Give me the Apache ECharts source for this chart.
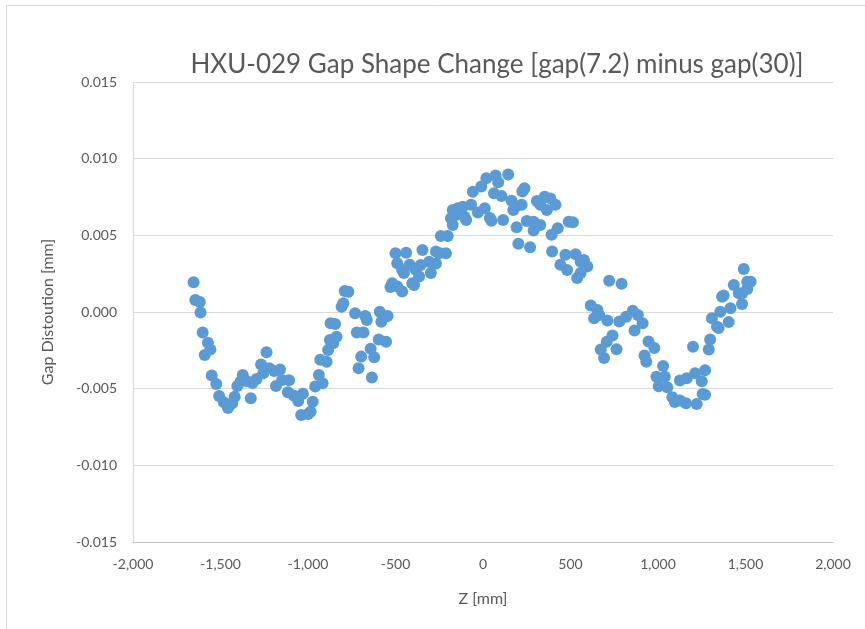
<!DOCTYPE html>
<html>
<head>
<meta charset="utf-8">
<script src="https://cdn.jsdelivr.net/npm/echarts@6/dist/echarts.min.js"></script>
<style>html,body{margin:0;padding:0;background:#fff;}#c{width:865px;height:629px;}</style>
</head>
<body>
<div id="c"></div>
<script>
// Z positions [mm]
const zValues = [
 -1654,-1644,-1618,-1614,-1602,-1572,-1558,-1590,-1550,-1524,-1508,-1481,-1457,-1433,-1419,-1404,-1373,-1385,-1351,-1327,
 -1317,-1294,-1268,-1237,-1256,-1221,-1193,-1160,-1183,-1148,-1108,-1115,-1082,-1056,-1029,-1039,-1000,-985,-973,-959,
 -938,-917,-930,-894,-885,-875,-871,-845,-837,-856,-808,-798,-769,-790,-731,-673,-664,-590,-545,-581,
 -721,-683,-596,-554,-642,-696,-622,-711,-635,
 -519,-529,-462,-490,-500,-439,-346,-490,-419,-452,-385,-356,-308,-269,-250,-212,-298,-394,-365,-404,
 -462,-269,-241,-202,
 -183,-173,-144,-115,-154,-96,-173,-68,-106,-29,10,39,48,115,-58,-10,19,72,144,87,
 63,106,237,225,163,183,221,173,308,352,385,414,365,327,250,289,327,289,192,392,
 427,490,514,202,269,395,471,442,
 529,577,596,481,558,538,558,721,792,616,654,635,664,711,779,818,856,885,912,866,
 740,707,673,692,763,946,979,923,933,1029,991,1039,1004,1053,1082,1125,1160,1221,1096,1125,
 1164,1212,1269,1250,1255,1200,1298,1290,1308,1356,1337,1366,1404,1414,1375,1433,1481,1480,1490,1510,
 1529,1462,1510,1346,1269
];
// Gap distortion [mm]
const gapValues = [
 0.00194,0.00078,0.00065,-0.00003,-0.00134,-0.00201,-0.00245,-0.0028,-0.00414,-0.00469,-0.00548,-0.00589,-0.00626,-0.00595,-0.00552,-0.00482,-0.00411,-0.00454,-0.0045,-0.00563,
 -0.00463,-0.00437,-0.00342,-0.00262,-0.004,-0.00367,-0.00385,-0.00375,-0.00482,-0.00443,-0.00445,-0.00523,-0.00544,-0.0058,-0.00533,-0.00672,-0.00665,-0.0065,-0.00585,-0.00486,
 -0.00411,-0.00465,-0.00311,-0.00324,-0.00248,-0.00183,-0.00074,-0.00078,-0.00161,-0.00204,0.00035,0.00057,0.00132,0.00137,-0.00008,-0.00026,-0.00052,0.00002,-0.00026,-0.00063,
 -0.00134,-0.00134,-0.00179,-0.00194,-0.0024,-0.00291,-0.00295,-0.00367,-0.00427,
 0.00187,0.00163,0.00134,0.00167,0.00383,0.00387,0.00404,0.00318,0.00308,0.00254,0.00276,0.00306,0.00328,0.00317,0.00383,0.00383,0.00254,0.00176,0.00231,0.00187,
 0.00274,0.00395,0.00496,0.00496,
 0.00611,0.00665,0.00676,0.00687,0.00633,0.006,0.00567,0.007,0.00621,0.00649,0.00676,0.00613,0.00595,0.006,0.00784,0.00818,0.00872,0.0089,0.00897,0.00846,
 0.00774,0.00756,0.00807,0.00786,0.00726,0.00683,0.007,0.00665,0.00724,0.00752,0.00741,0.007,0.00665,0.007,0.00593,0.00589,0.00567,0.00531,0.00553,0.00504,
 0.00546,0.00589,0.00585,0.00445,0.00423,0.00394,0.00374,0.00308,
 0.00376,0.00339,0.00296,0.00274,0.00254,0.00221,0.00328,0.00204,0.00185,0.00042,0.00013,-0.00041,-0.0002,-0.00055,-0.00062,-0.00031,0.00008,-0.0002,-0.00074,-0.00121,
 -0.00153,-0.00194,-0.00245,-0.003,-0.00243,-0.00192,-0.00235,-0.00284,-0.00324,-0.00352,-0.00422,-0.00422,-0.00485,-0.0049,-0.00556,-0.00577,-0.00595,-0.006,-0.00587,-0.00447,
 -0.00432,-0.004,-0.0038,-0.00452,-0.00535,-0.00226,-0.00179,-0.00244,-0.00041,0.00002,-0.00096,0.001,-0.00066,0.00024,0.00108,0.00176,0.00122,0.00052,0.0028,0.00198,
 0.00198,0.00122,0.0015,-0.00104,-0.0054
];
const xTicks = [-2000,-1500,-1000,-500,0,500,1000,1500,2000];
const yTicks = [-0.015,-0.010,-0.005,0,0.005,0.010,0.015];

const points = zValues.map((z,i)=>[z,gapValues[i]]);
const FONT = 'Lato, "Open Sans", sans-serif';
const chart = echarts.init(document.getElementById('c'));
chart.setOption({
  animation:false,
  backgroundColor:'#fff',
  graphic:[
    {type:'rect',shape:{x:6.5,y:5.5,width:1000,height:1000},style:{fill:'none',stroke:'#d9d9d9',lineWidth:1},silent:true},
    {type:'text',x:497,y:65,style:{text:'HXU-029 Gap Shape Change [gap(7.2) minus gap(30)]',font:'26px '+FONT,fill:'#595959',textAlign:'center',textVerticalAlign:'middle'}}
  ],
  grid:{left:133,right:32,top:82,bottom:87,containLabel:false},
  xAxis:{
    type:'value',min:xTicks[0],max:xTicks[xTicks.length-1],interval:500,
    name:'Z [mm]',nameLocation:'middle',nameGap:49,
    nameTextStyle:{color:'#595959',fontSize:16,fontFamily:FONT},
    axisLine:{show:true,onZero:false,lineStyle:{color:'#bfbfbf',width:1}},
    axisTick:{show:false},
    splitLine:{show:false},
    axisLabel:{color:'#595959',fontSize:14,fontFamily:FONT,margin:15,
      formatter:v=>v.toLocaleString('en-US')}
  },
  yAxis:{
    type:'value',min:yTicks[0],max:yTicks[yTicks.length-1],interval:0.005,
    name:'Gap Distoution [mm]',nameLocation:'middle',nameGap:77,
    nameTextStyle:{color:'#595959',fontSize:16,fontFamily:FONT},
    axisLine:{show:true,onZero:false,lineStyle:{color:'#d9d9d9',width:1}},
    axisTick:{show:false},
    splitLine:{show:true,lineStyle:{color:'#d9d9d9',width:1}},
    axisLabel:{color:'#595959',fontSize:14,fontFamily:FONT,margin:16,
      formatter:v=>v.toFixed(3)}
  },
  series:[{
    type:'scatter',data:points,symbol:'circle',symbolSize:12,
    itemStyle:{color:'#5B9BD5',opacity:1}
  }]
});
</script>
</body>
</html>
